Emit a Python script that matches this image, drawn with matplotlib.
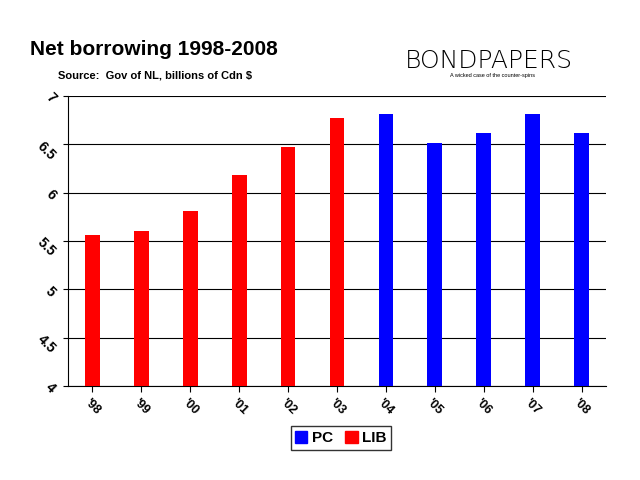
import matplotlib
matplotlib.use("Agg")
import matplotlib.pyplot as plt
from matplotlib.patches import Patch

years = ["'98", "'99", "'00", "'01", "'02", "'03", "'04", "'05", "'06", "'07", "'08"]
values = [5.56, 5.60, 5.81, 6.18, 6.47, 6.77, 6.81, 6.51, 6.62, 6.81, 6.62]
party = ["LIB"] * 6 + ["PC"] * 5
colors = {"PC": "#0000FF", "LIB": "#FF0000"}

plt.rcParams['font.family'] = ['Liberation Sans', 'DejaVu Sans']
fig = plt.figure(figsize=(6.4, 4.8), dpi=100)
ax = fig.add_axes([68/640, 1-386/480, (606-68)/640, (386-96)/480])
x = range(len(years))
base = 4
ax.bar(x, [v - base for v in values], width=0.3, bottom=base,
       color=[colors[p] for p in party], zorder=3)
ax.set_ylim(4, 7)
ax.set_xlim(-0.5, len(years)-0.5)
ax.set_yticks([4, 4.5, 5, 5.5, 6, 6.5, 7])
ax.set_yticklabels(["4", "4.5", "5", "5.5", "6", "6.5", "7"], rotation=-45, fontweight='bold', fontsize=10)
ax.set_xticks(list(x))
ax.set_xticklabels(years, rotation=-45, fontweight='bold', fontsize=9)
ax.grid(axis='y', color='black', linewidth=0.8, zorder=0)
for s in ['top', 'right']:
    ax.spines[s].set_visible(False)
ax.tick_params(axis='x', length=4, direction='out')

fig.text(30/640, 1-55/480, "Net borrowing 1998-2008", fontsize=15, fontweight='bold')
fig.text(58/640, 1-78/480, "Source:  Gov of NL, billions of Cdn $", fontsize=8, fontweight='bold')
fig.text(405/640, 1-68/480, "BONDPAPERS", fontsize=18, family='DejaVu Sans', fontweight='light')
fig.text(450/640, 1-77/480, "A wicked case of the counter-spins", fontsize=4)

handles = [Patch(color=colors["PC"], label="PC"), Patch(color=colors["LIB"], label="LIB")]
leg = fig.legend(handles=handles, loc='center', bbox_to_anchor=(341/640, 1-438/480), ncol=2,
                 prop={'weight': 'bold', 'size': 11}, frameon=True, fancybox=False,
                 handlelength=0.8, handleheight=0.8, columnspacing=0.8, handletextpad=0.3,
                 borderpad=0.3)
leg.get_frame().set_edgecolor('black')
fig.savefig("out.png", dpi=100)
